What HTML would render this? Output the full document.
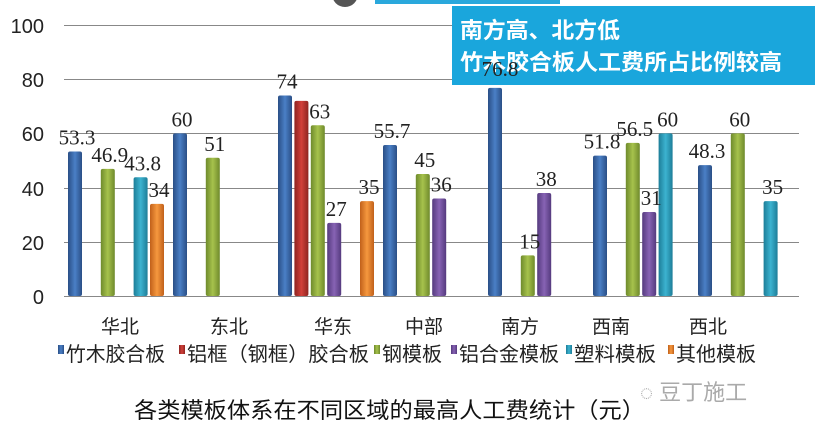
<!DOCTYPE html>
<html><head><meta charset="utf-8"><style>
html,body{margin:0;padding:0;background:#fff;width:815px;height:435px;overflow:hidden}
svg text{font-family:"Liberation Serif","Noto Serif CJK SC",serif}
.s{font-family:"Liberation Sans","Noto Sans CJK SC",sans-serif}
</style></head><body>
<svg width="815" height="435" viewBox="0 0 815 435" xmlns="http://www.w3.org/2000/svg">
<defs>
<linearGradient id="b" x1="0" x2="1"><stop offset="0" stop-color="#2a4f86"/><stop offset=".5" stop-color="#4a7fc6"/><stop offset="1" stop-color="#2a4f86"/></linearGradient>
<linearGradient id="r" x1="0" x2="1"><stop offset="0" stop-color="#8e2420"/><stop offset=".5" stop-color="#d2403a"/><stop offset="1" stop-color="#8e2420"/></linearGradient>
<linearGradient id="g" x1="0" x2="1"><stop offset="0" stop-color="#6f8a2c"/><stop offset=".5" stop-color="#a6c24c"/><stop offset="1" stop-color="#6f8a2c"/></linearGradient>
<linearGradient id="p" x1="0" x2="1"><stop offset="0" stop-color="#553a7e"/><stop offset=".5" stop-color="#8763b4"/><stop offset="1" stop-color="#553a7e"/></linearGradient>
<linearGradient id="t" x1="0" x2="1"><stop offset="0" stop-color="#1d7d98"/><stop offset=".5" stop-color="#3cb3d0"/><stop offset="1" stop-color="#1d7d98"/></linearGradient>
<linearGradient id="o" x1="0" x2="1"><stop offset="0" stop-color="#c0601a"/><stop offset=".5" stop-color="#f6983e"/><stop offset="1" stop-color="#c0601a"/></linearGradient>
</defs>
<circle cx="345" cy="-6" r="13" fill="#555"/>
<rect x="375" y="0" width="185" height="4" fill="#2aa8dc"/>
<g stroke="#888" stroke-width="1">
<line x1="64" y1="25.5" x2="799" y2="25.5"/><line x1="64" y1="79.5" x2="799" y2="79.5"/>
<line x1="64" y1="133.5" x2="799" y2="133.5"/><line x1="64" y1="188.5" x2="799" y2="188.5"/>
<line x1="64" y1="242.5" x2="799" y2="242.5"/><line x1="64" y1="296.5" x2="799" y2="296.5"/>
</g>
<g font-size="20" fill="#222" text-anchor="end">
<text x="44" y="33" class="s">100</text><text x="44" y="87" class="s">80</text><text x="44" y="141" class="s">60</text>
<text x="44" y="196" class="s">40</text><text x="44" y="250" class="s">20</text><text x="44" y="304" class="s">0</text>
</g>
<g id="bars"></g>
<g font-size="21" fill="#222" text-anchor="middle" id="labels"></g>
<rect x="452" y="6" width="363" height="79" fill="#1aa6dc"/>
<text x="460" y="38" class="s" font-size="22" font-weight="bold" fill="#fff" textLength="160" lengthAdjust="spacingAndGlyphs">南方高、北方低</text>
<text x="460" y="70" class="s" font-size="22" font-weight="bold" fill="#fff" textLength="322" lengthAdjust="spacingAndGlyphs">竹木胶合板人工费所占比例较高</text>
<text x="500" y="76" font-size="21" fill="#222" text-anchor="middle">76.8</text>
<g font-size="19" fill="#222" text-anchor="middle">
<text x="120" y="333" class="s">华北</text><text x="229" y="333" class="s">东北</text><text x="333" y="333" class="s">华东</text>
<text x="424" y="333" class="s">中部</text><text x="520" y="333" class="s">南方</text><text x="611" y="333" class="s">西南</text><text x="708" y="333" class="s">西北</text>
</g>
<g font-size="20" fill="#222">
<rect x="58" y="345" width="6" height="9" fill="url(#b)"/><text x="66" y="361" class="s" textLength="99" lengthAdjust="spacingAndGlyphs">竹木胶合板</text>
<rect x="179" y="345" width="6" height="9" fill="url(#r)"/><text x="187" y="361" class="s" textLength="182" lengthAdjust="spacingAndGlyphs">铝框（钢框）胶合板</text>
<rect x="374" y="345" width="6" height="9" fill="url(#g)"/><text x="382" y="361" class="s" textLength="60" lengthAdjust="spacingAndGlyphs">钢模板</text>
<rect x="451" y="345" width="6" height="9" fill="url(#p)"/><text x="459" y="361" class="s" textLength="100" lengthAdjust="spacingAndGlyphs">铝合金模板</text>
<rect x="566" y="345" width="6" height="9" fill="url(#t)"/><text x="574" y="361" class="s" textLength="82" lengthAdjust="spacingAndGlyphs">塑料模板</text>
<rect x="668" y="345" width="6" height="9" fill="url(#o)"/><text x="676" y="361" class="s" textLength="80" lengthAdjust="spacingAndGlyphs">其他模板</text>
</g>
<text x="640" y="400" font-size="22" fill="#aaa" class="s">◌ 豆丁施工</text>
<text x="134" y="418" font-size="22" fill="#111" class="s" textLength="511" lengthAdjust="spacingAndGlyphs">各类模板体系在不同区域的最高人工费统计（元）</text>
<script>
var data=[[[0,53.3],[2,46.9],[4,43.8],[5,34]],[[0,60],[2,51]],[[0,74],[1,72],[2,63],[3,27],[5,35]],[[0,55.7],[2,45],[3,36]],[[0,76.8],[2,15],[3,38]],[[0,51.8],[2,56.5],[3,31],[4,60]],[[0,48.3],[2,60],[4,35]]];
var c=['b','r','g','p','t','o'],ns='http://www.w3.org/2000/svg',B=document.getElementById('bars'),L=document.getElementById('labels');
data.forEach(function(gr,i){var gx=68+105*i;gr.forEach(function(d){var x=gx+d[0]*16.4,h=d[1]*2.71,y=296-h;
var r=document.createElementNS(ns,'rect');r.setAttribute('x',x);r.setAttribute('y',y);r.setAttribute('width',14);r.setAttribute('height',h);r.setAttribute('fill','url(#'+c[d[0]]+')');r.setAttribute('rx',2);B.appendChild(r);
if(d[0]==1||(i==4&&d[0]==0))return;
var t=document.createElementNS(ns,'text');t.setAttribute('x',x+9);t.setAttribute('y',y-7);t.textContent=d[1];L.appendChild(t);});});
</script>
</svg>
</body></html>
